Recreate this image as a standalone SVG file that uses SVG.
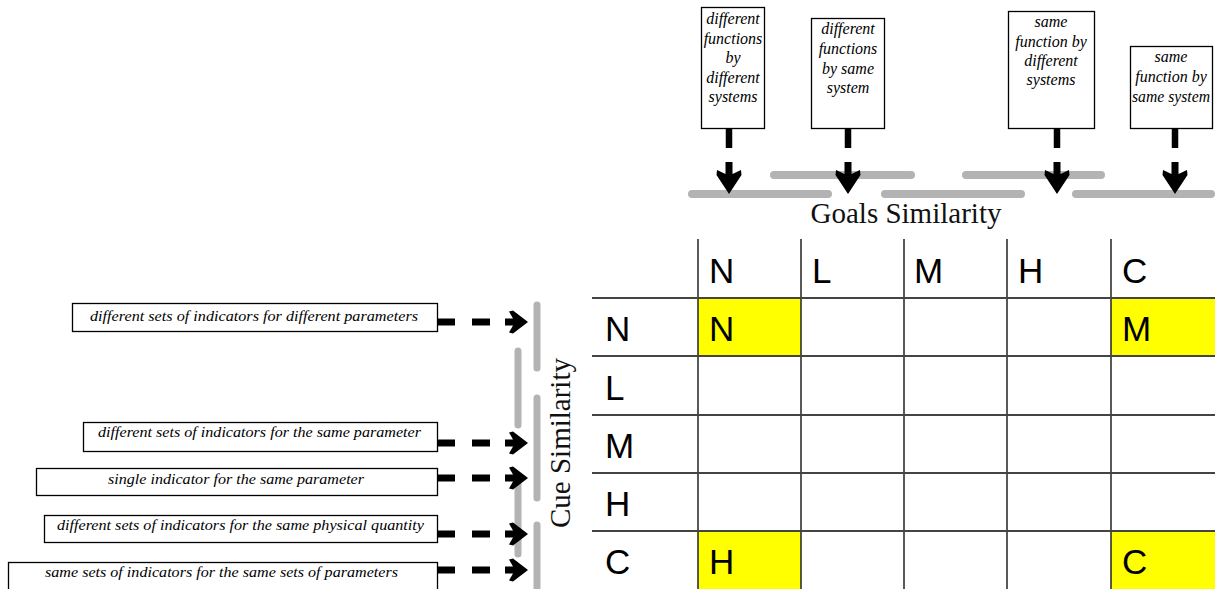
<svg xmlns="http://www.w3.org/2000/svg" width="1215" height="589" viewBox="0 0 1215 589">
<defs>
<style>
.box{fill:#fff;stroke:#000;stroke-width:1.3}
.it{font-family:"Liberation Serif","Times New Roman",serif;font-style:italic;fill:#000}
.tb{font-size:16px;text-anchor:middle}
.lb{font-size:14px}
.gray{stroke:#b3b3b3;stroke-width:8;stroke-linecap:round;fill:none}
.grid{stroke:#222;stroke-width:1.5;fill:none}
.hgrid{stroke:#444;stroke-width:2;fill:none}
.big{font-family:"Liberation Sans",Arial,sans-serif;font-size:35px;fill:#000}
.title{font-family:"Liberation Serif","Times New Roman",serif;font-size:29px;fill:#111}
.stem{stroke:#000;stroke-width:6.5;fill:none}
.dash{stroke:#000;stroke-width:7;fill:none}
</style>
<path id="darr" d="M-3.5,-32 L3.5,-32 L3.5,-20 L12,-24 L12.5,-19 L0,0 L-12.5,-19 L-12,-24 L-3.5,-20 Z" fill="#000"/>
<path id="rarr" d="M-23,-3.5 L-15,-3.5 L-19,-10.5 L-15,-11.5 L0,0 L-15,11.5 L-19,10.5 L-15,3.5 L-23,3.5 Z" fill="#000"/>
</defs>
<rect width="1215" height="589" fill="#fff"/>

<!-- Goals similarity gray bars -->
<g id="goals-bars">
<line class="gray" x1="774" y1="175" x2="911" y2="175"/>
<line class="gray" x1="966" y1="175" x2="1101" y2="175"/>
<line class="gray" x1="692" y1="194" x2="828" y2="194"/>
<line class="gray" x1="885" y1="194" x2="1021" y2="194"/>
<line class="gray" x1="1076" y1="194" x2="1211" y2="194"/>
</g>
<text id="goals-label" class="title" x="906" y="223" text-anchor="middle">Goals Similarity</text>

<!-- Cue similarity gray bars -->
<g id="cue-bars">
<line class="gray" x1="537" y1="305" x2="537" y2="368" style="stroke-width:7"/>
<line class="gray" x1="537" y1="398" x2="537" y2="498" style="stroke-width:7"/>
<line class="gray" x1="537" y1="525" x2="537" y2="595" style="stroke-width:7"/>
<line class="gray" x1="518" y1="351" x2="518" y2="425" style="stroke-width:7"/>
<line class="gray" x1="518" y1="484" x2="518" y2="554" style="stroke-width:7"/>
</g>
<text id="cue-label" class="title" transform="translate(570,443) rotate(-90)" text-anchor="middle">Cue Similarity</text>

<!-- Top goal nodes -->
<g id="goal1">
<rect class="box" x="701.5" y="7.5" width="63" height="121"/>
<text class="it tb" x="733" y="24">different</text>
<text class="it tb" x="733" y="44">functions</text>
<text class="it tb" x="733" y="63">by</text>
<text class="it tb" x="733" y="83">different</text>
<text class="it tb" x="733" y="102">systems</text>
</g>
<g id="goal2">
<rect class="box" x="811.5" y="18.5" width="73" height="110"/>
<text class="it tb" x="848" y="34">different</text>
<text class="it tb" x="848" y="54">functions</text>
<text class="it tb" x="848" y="74">by  same</text>
<text class="it tb" x="848" y="93">system</text>
</g>
<g id="goal3">
<rect class="box" x="1008.5" y="11.5" width="86" height="117"/>
<text class="it tb" x="1051" y="27">same</text>
<text class="it tb" x="1051" y="47">function by</text>
<text class="it tb" x="1051" y="66">different</text>
<text class="it tb" x="1051" y="85">systems</text>
</g>
<g id="goal4">
<rect class="box" x="1130.5" y="46.5" width="82" height="82"/>
<text class="it tb" x="1171" y="62">same</text>
<text class="it tb" x="1171" y="82">function by</text>
<text class="it tb" x="1171" y="102" textLength="78" lengthAdjust="spacingAndGlyphs">same system</text>
</g>

<!-- Left cue nodes -->
<g id="cue1">
<rect class="box" x="72.5" y="303.5" width="365" height="28"/>
<text class="it lb" x="90" y="321" textLength="328" lengthAdjust="spacingAndGlyphs">different sets of indicators for different parameters</text>
</g>
<g id="cue2">
<rect class="box" x="83.5" y="422.5" width="354" height="29"/>
<text class="it lb" x="98" y="437" textLength="323" lengthAdjust="spacingAndGlyphs">different sets of indicators for the same parameter</text>
</g>
<g id="cue3">
<rect class="box" x="36.5" y="468.5" width="401" height="27"/>
<text class="it lb" x="108" y="484" textLength="256" lengthAdjust="spacingAndGlyphs">single indicator for the same parameter</text>
</g>
<g id="cue4">
<rect class="box" x="44.5" y="515.5" width="393" height="27"/>
<text class="it lb" x="57" y="530" textLength="367" lengthAdjust="spacingAndGlyphs">different sets of indicators for the same physical quantity</text>
</g>
<g id="cue5">
<rect class="box" x="8.5" y="562.5" width="429" height="40"/>
<text class="it lb" x="45" y="577" textLength="353" lengthAdjust="spacingAndGlyphs">same sets of indicators for the same sets of parameters</text>
</g>

<!-- Connectors -->
<g id="connectors">
<line class="stem" x1="729" y1="128" x2="729" y2="148"/>
<use href="#darr" x="729" y="194"/>
<line class="stem" x1="848" y1="128" x2="848" y2="148"/>
<use href="#darr" x="848" y="194"/>
<line class="stem" x1="1057" y1="128" x2="1057" y2="148"/>
<use href="#darr" x="1057" y="194"/>
<line class="stem" x1="1175" y1="128" x2="1175" y2="148"/>
<use href="#darr" x="1175" y="194"/>

<g>
<line class="dash" x1="438" y1="322" x2="455" y2="322"/><line class="dash" x1="472" y1="322" x2="490" y2="322"/><use href="#rarr" x="528" y="322"/>
<line class="dash" x1="438" y1="443" x2="455" y2="443"/><line class="dash" x1="472" y1="443" x2="490" y2="443"/><use href="#rarr" x="528" y="443"/>
<line class="dash" x1="438" y1="478" x2="455" y2="478"/><line class="dash" x1="472" y1="478" x2="490" y2="478"/><use href="#rarr" x="528" y="478"/>
<line class="dash" x1="438" y1="534" x2="455" y2="534"/><line class="dash" x1="472" y1="534" x2="490" y2="534"/><use href="#rarr" x="528" y="534"/>
<line class="dash" x1="438" y1="570" x2="455" y2="570"/><line class="dash" x1="472" y1="570" x2="490" y2="570"/><use href="#rarr" x="528" y="570"/>
</g>
</g>

<!-- Matrix -->
<g id="matrix">
<rect x="698" y="298" width="103" height="58" fill="#ffff00"/>
<rect x="1111" y="298" width="104" height="58" fill="#ffff00"/>
<rect x="698" y="531" width="103" height="58" fill="#ffff00"/>
<rect x="1111" y="531" width="104" height="58" fill="#ffff00"/>
<g class="grid">
<line x1="698" y1="239" x2="698" y2="589"/>
<line x1="801" y1="239" x2="801" y2="589"/>
<line x1="904" y1="239" x2="904" y2="589"/>
<line x1="1007" y1="239" x2="1007" y2="589"/>
<line x1="1111" y1="239" x2="1111" y2="589"/>
</g>
<g class="hgrid">
<line x1="592" y1="298" x2="1215" y2="298"/>
<line x1="592" y1="356" x2="1215" y2="356"/>
<line x1="592" y1="415" x2="1215" y2="415"/>
<line x1="592" y1="473" x2="1215" y2="473"/>
<line x1="592" y1="531" x2="1215" y2="531"/>
</g>
<text class="big" x="709" y="283">N</text>
<text class="big" x="812" y="283">L</text>
<text class="big" x="914" y="283">M</text>
<text class="big" x="1018" y="283">H</text>
<text class="big" x="1122" y="283">C</text>
<text class="big" x="605" y="341">N</text>
<text class="big" x="605" y="400">L</text>
<text class="big" x="605" y="458">M</text>
<text class="big" x="605" y="516">H</text>
<text class="big" x="605" y="574">C</text>
<text class="big" x="709" y="341">N</text>
<text class="big" x="1122" y="341">M</text>
<text class="big" x="709" y="574">H</text>
<text class="big" x="1122" y="574">C</text>
</g>
</svg>
